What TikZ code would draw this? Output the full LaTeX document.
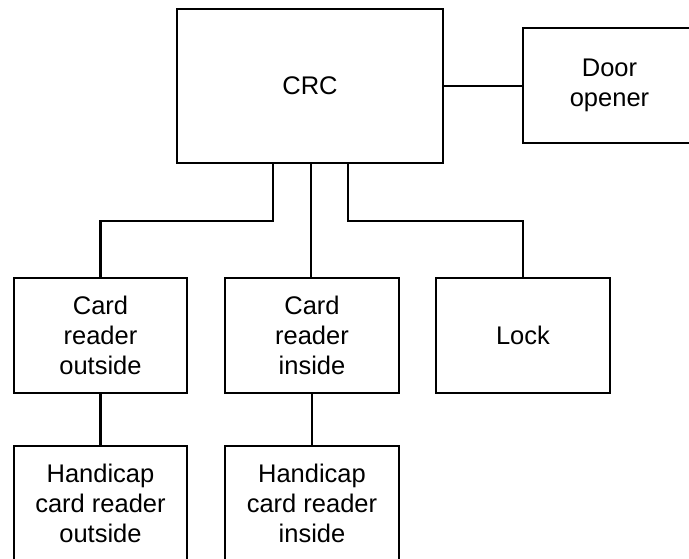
\documentclass[tikz,border=0pt]{standalone}
\usepackage{fontspec}
\setmainfont{Liberation Sans}
\begin{document}
\begin{tikzpicture}[x=1pt,y=1pt,
  box/.style={draw=black, line width=2pt, inner sep=0pt, outer sep=0pt,
    align=center, font=\fontsize{25.5}{30}\selectfont},
  wire/.style={draw=black, line width=2.2pt}]
\useasboundingbox (0,0) rectangle (689,558);
\clip (0,0) rectangle (689,558);
\node[box, minimum width=266pt, minimum height=154pt] (crc) at (310,472) {CRC};
\node[box, minimum width=173pt, minimum height=115pt] (door) at (609.5,472.2) {Door\\opener};
\node[box, minimum width=173pt, minimum height=115pt] (cro) at (100.5,222.5) {Card\\reader\\outside};
\node[box, minimum width=174pt, minimum height=115pt] (cri) at (312,222.5) {Card\\reader\\inside};
\node[box, minimum width=174pt, minimum height=115pt] (lock) at (523,222.5) {Lock};
\node[box, minimum width=173pt, minimum height=115pt] (hco) at (100.5,54.5) {Handicap\\card reader\\outside};
\node[box, minimum width=174pt, minimum height=115pt] (hci) at (312,54.5) {Handicap\\card reader\\inside};
\draw[wire] (crc.east |- door.west) -- (door.west);
\draw[wire] ([xshift=-37pt]crc.south) -- ++(0,-57.7) -| (cro.north);
\draw[wire] ([xshift=1pt]crc.south) -- ([xshift=-1pt]cri.north);
\draw[wire] ([xshift=38pt]crc.south) -- ++(0,-57.7) -| (lock.north);
\draw[wire] (cro.south) -- (hco.north);
\draw[wire] (cri.south) -- (hci.north);
\end{tikzpicture}
\end{document}
